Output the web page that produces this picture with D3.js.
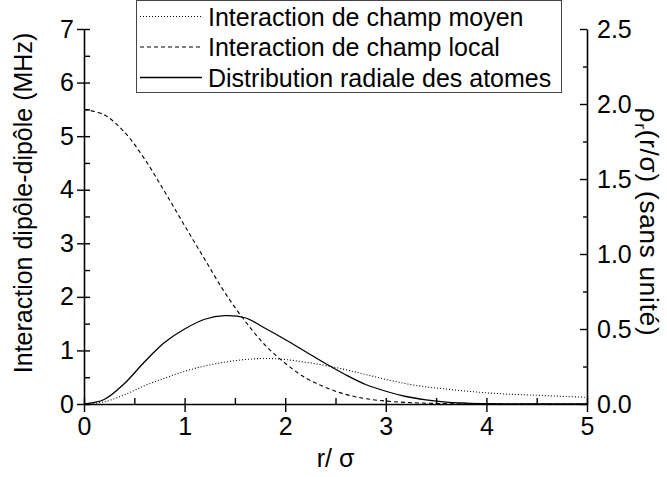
<!DOCTYPE html>
<html>
<head>
<meta charset="utf-8">
<script src="https://cdn.jsdelivr.net/npm/d3@7"></script>
<style>
  body { margin: 0; background: #fff; }
  svg { display: block; }
  text { font-family: "Liberation Sans", Arial, sans-serif; fill: #000; }
</style>
</head>
<body>
<svg id="chart" width="667" height="477"></svg>
<script>
// ---- Data ----
const rValues = [0, 0.2, 0.4, 0.6, 0.8, 1.0, 1.2, 1.4, 1.6, 1.8, 2.0, 2.2, 2.4, 2.6, 2.8, 3.0, 3.2, 3.4, 3.6, 3.8, 4.0, 4.2, 4.4, 4.6, 4.8, 5.0];
// Interaction de champ moyen (left axis, MHz)
const champMoyen = [0, 0.04, 0.17, 0.34, 0.48, 0.61, 0.71, 0.78, 0.83, 0.85, 0.83, 0.78, 0.72, 0.64, 0.55, 0.46, 0.38, 0.32, 0.28, 0.24, 0.21, 0.185, 0.17, 0.155, 0.14, 0.125];
// Interaction de champ local (left axis, MHz)
const champLocal = [5.50, 5.40, 5.08, 4.58, 3.97, 3.33, 2.70, 2.08, 1.55, 1.10, 0.76, 0.49, 0.31, 0.18, 0.10, 0.055, 0.03, 0.015, 0.007, 0.003, 0, 0, 0, 0, 0, 0];
// Distribution radiale des atomes (right axis)
const distRadiale = [0, 0.03, 0.135, 0.28, 0.41, 0.50, 0.565, 0.589, 0.575, 0.505, 0.43, 0.35, 0.27, 0.195, 0.13, 0.085, 0.05, 0.028, 0.013, 0.006, 0.002, 0, 0, 0, 0, 0];

const xTicks = [0, 1, 2, 3, 4, 5];
const xMinorTicks = [0.5, 1.5, 2.5, 3.5, 4.5];
const yLeftTicks = [0, 1, 2, 3, 4, 5, 6, 7];
const yLeftMinorTicks = [0.5, 1.5, 2.5, 3.5, 4.5, 5.5, 6.5];
const yRightTicks = [0, 0.5, 1.0, 1.5, 2.0, 2.5];
const yRightMinorTicks = [0.25, 0.75, 1.25, 1.75, 2.25];

const legendLabels = ["Interaction de champ moyen", "Interaction de champ local", "Distribution radiale des atomes"];
const xLabel = "r/ σ";
const yLeftLabel = "Interaction dipôle-dipôle (MHz)";

// ---- Layout ----
const svg = d3.select("#chart");
const mLeft = 84, mRight = 587, mTop = 29, mBottom = 404;
const FONT = 25;

const x = d3.scaleLinear().domain([0, 5]).range([mLeft, mRight]);
const yL = d3.scaleLinear().domain([0, 7]).range([mBottom, mTop]);
const yR = d3.scaleLinear().domain([0, 2.5]).range([mBottom, mTop]);

function styleAxis(g) {
  g.attr("font-size", FONT).attr("font-family", '"Liberation Sans", Arial, sans-serif');
  g.selectAll("path.domain").attr("stroke", "#000").attr("stroke-width", 1.6);
  g.selectAll(".tick line").attr("stroke", "#000").attr("stroke-width", 1.4);
  g.selectAll(".tick text").attr("fill", "#000");
}

// Bottom axis
const gx = svg.append("g").attr("transform", `translate(0,${mBottom})`)
  .call(d3.axisBottom(x).tickValues(xTicks).tickSizeInner(8).tickSizeOuter(0).tickPadding(5).tickFormat(d3.format("d")));
gx.selectAll(".tick line").attr("y1", -6);
styleAxis(gx);
const gxm = svg.append("g").attr("transform", `translate(0,${mBottom})`)
  .call(d3.axisBottom(x).tickValues(xMinorTicks).tickSizeInner(-6).tickSizeOuter(0).tickFormat(""));
gxm.select("path.domain").remove();
styleAxis(gxm);

// Left axis
const gy = svg.append("g").attr("transform", `translate(${mLeft},0)`)
  .call(d3.axisLeft(yL).tickValues(yLeftTicks).tickSizeInner(7).tickSizeOuter(0).tickPadding(3).tickFormat(d3.format("d")));
gy.selectAll(".tick line").attr("x1", 6);
styleAxis(gy);
const gym = svg.append("g").attr("transform", `translate(${mLeft},0)`)
  .call(d3.axisLeft(yL).tickValues(yLeftMinorTicks).tickSizeInner(-6).tickSizeOuter(0).tickFormat(""));
gym.select("path.domain").remove();
styleAxis(gym);

// Right axis
const gr = svg.append("g").attr("transform", `translate(${mRight},0)`)
  .call(d3.axisRight(yR).tickValues(yRightTicks).tickSizeInner(-7).tickSizeOuter(0).tickPadding(10).tickFormat(d3.format(".1f")));
styleAxis(gr);
const grm = svg.append("g").attr("transform", `translate(${mRight},0)`)
  .call(d3.axisRight(yR).tickValues(yRightMinorTicks).tickSizeInner(-4).tickSizeOuter(0).tickFormat(""));
grm.select("path.domain").remove();
styleAxis(grm);

// Curves
const curve = d3.curveCatmullRom.alpha(0.5);
const lineL = d3.line().x((d, i) => x(rValues[i])).y(d => yL(d)).curve(curve);
const lineR = d3.line().x((d, i) => x(rValues[i])).y(d => yR(d)).curve(curve);

const styles = [
  { dash: "1,2", width: 1.1 },
  { dash: "4,3", width: 1.1 },
  { dash: null, width: 1.3 }
];

svg.append("path").datum(champMoyen).attr("d", lineL)
  .attr("fill", "none").attr("stroke", "#000").attr("stroke-width", styles[0].width).attr("stroke-dasharray", styles[0].dash);
svg.append("path").datum(champLocal).attr("d", lineL)
  .attr("fill", "none").attr("stroke", "#000").attr("stroke-width", styles[1].width).attr("stroke-dasharray", styles[1].dash);
svg.append("path").datum(distRadiale).attr("d", lineR)
  .attr("fill", "none").attr("stroke", "#000").attr("stroke-width", styles[2].width);

// Axis titles
svg.append("text").attr("x", (mLeft + mRight) / 2).attr("y", 467).attr("text-anchor", "middle")
  .attr("font-size", FONT).text(xLabel);

svg.append("text").attr("transform", `translate(32,203) rotate(-90)`).attr("text-anchor", "middle")
  .attr("font-size", FONT).text(yLeftLabel);

const rt = svg.append("text").attr("transform", `translate(640,222) rotate(90)`).attr("text-anchor", "middle")
  .attr("font-size", 26).attr("letter-spacing", 0.8);
rt.append("tspan").text("ρ");
rt.append("tspan").attr("font-size", 17).attr("dy", 5).text("r");
rt.append("tspan").attr("dy", -5).text("(r/σ) (sans unité)");

// Legend
const legend = svg.append("g");
legend.append("rect").attr("x", 136.5).attr("y", 0.5).attr("width", 425).attr("height", 92)
  .attr("fill", "#fff").attr("stroke", "#444").attr("stroke-width", 1);
const rowY = [16.5, 47, 77.5];
legendLabels.forEach((lab, i) => {
  legend.append("line").attr("x1", 140).attr("x2", 202).attr("y1", rowY[i]).attr("y2", rowY[i])
    .attr("stroke", "#000").attr("stroke-width", styles[i].width).attr("stroke-dasharray", styles[i].dash);
  legend.append("text").attr("x", 208).attr("y", rowY[i] + 9).attr("font-size", FONT).text(lab);
});
</script>
</body>
</html>
